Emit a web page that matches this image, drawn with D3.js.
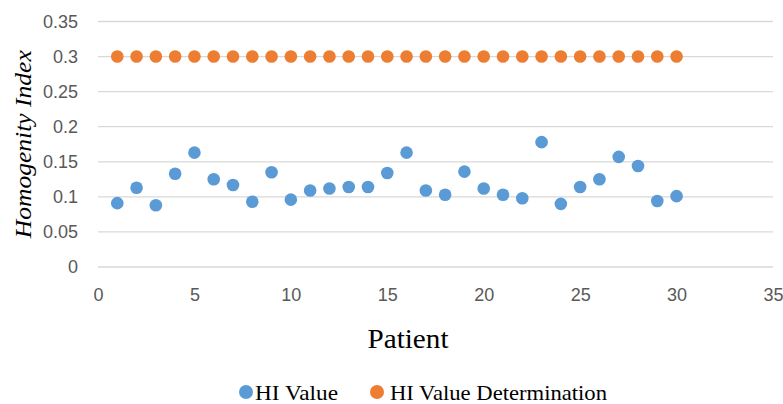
<!DOCTYPE html>
<html>
<head>
<meta charset="utf-8">
<script src="https://cdn.jsdelivr.net/npm/d3@7"></script>
<style>
  body { margin: 0; background: #fff; }
  svg { display: block; }
</style>
</head>
<body>
<script>
// data
var patients = d3.range(1, 31);
var hiValue = [0.091, 0.113, 0.088, 0.133, 0.163, 0.125, 0.117, 0.093, 0.135, 0.096,
               0.109, 0.112, 0.114, 0.114, 0.134, 0.163, 0.109, 0.103, 0.136, 0.112,
               0.103, 0.098, 0.178, 0.090, 0.114, 0.125, 0.157, 0.144, 0.094, 0.101];
var hiDetermination = patients.map(function() { return 0.3; });
var xTicks = [0, 5, 10, 15, 20, 25, 30, 35];
var yTicks = [0, 0.05, 0.1, 0.15, 0.2, 0.25, 0.3, 0.35];
var seriesNames = ["HI Value", "HI Value Determination"];
var colors = ["#5b9bd5", "#ed7d31"];

var width = 783, height = 404;
var margin = {top: 21.5, right: 10, bottom: 137, left: 98};

var svg = d3.select("body").append("svg")
    .attr("width", width)
    .attr("height", height);

var x = d3.scaleLinear().domain([0, 35]).range([margin.left, width - margin.right]);
var y = d3.scaleLinear().domain([0, 0.35]).range([height - margin.bottom, margin.top]);

var tickFont = "'Liberation Sans', Arial, sans-serif";
var serif = "'Liberation Serif', 'Times New Roman', serif";

// gridlines
svg.append("g")
    .selectAll("line")
    .data(yTicks)
  .enter().append("line")
    .attr("x1", x(0))
    .attr("x2", x(35))
    .attr("y1", function(d) { return y(d); })
    .attr("y2", function(d) { return y(d); })
    .attr("stroke", "#d9d9d9")
    .attr("stroke-width", 1.3);

// y axis labels
var yAxis = svg.append("g")
    .attr("transform", "translate(" + (x(0) - 20) + ",0)")
    .call(d3.axisLeft(y).tickValues(yTicks).tickSize(0).tickPadding(0)
      .tickFormat(function(d) { return String(+d.toFixed(2)); }));
yAxis.select(".domain").remove();
yAxis.selectAll("text")
    .attr("fill", "#595959")
    .style("font-family", tickFont)
    .style("font-size", "18px");

// x axis labels
var xAxis = svg.append("g")
    .attr("transform", "translate(0,301)")
    .call(d3.axisBottom(x).tickValues(xTicks).tickSize(0));
xAxis.select(".domain").remove();
xAxis.selectAll("text")
    .attr("y", 0)
    .attr("dy", 0)
    .attr("fill", "#595959")
    .style("font-family", tickFont)
    .style("font-size", "18px");

// points
svg.append("g")
    .selectAll("circle")
    .data(hiDetermination)
  .enter().append("circle")
    .attr("cx", function(d, i) { return x(patients[i]); })
    .attr("cy", function(d) { return y(d); })
    .attr("r", 6.3)
    .attr("fill", colors[1]);

svg.append("g")
    .selectAll("circle")
    .data(hiValue)
  .enter().append("circle")
    .attr("cx", function(d, i) { return x(patients[i]); })
    .attr("cy", function(d) { return y(d); })
    .attr("r", 6.3)
    .attr("fill", colors[0]);

// axis titles
svg.append("text")
    .attr("transform", "translate(31," + y(0.175) + ") rotate(-90)")
    .attr("text-anchor", "middle")
    .attr("textLength", 188)
    .attr("lengthAdjust", "spacingAndGlyphs")
    .style("font-family", serif)
    .style("font-style", "italic")
    .style("font-size", "24px")
    .attr("fill", "#000")
    .text("Homogenity Index");

svg.append("text")
    .attr("x", 408)
    .attr("y", 348)
    .attr("text-anchor", "middle")
    .attr("textLength", 81)
    .attr("lengthAdjust", "spacingAndGlyphs")
    .style("font-family", serif)
    .style("font-size", "27px")
    .attr("fill", "#000")
    .text("Patient");

// legend
var legendX = [246, 377];
var legendLen = [83, 217];
var legend = svg.append("g")
    .selectAll("g")
    .data(seriesNames)
  .enter().append("g")
    .attr("transform", function(d, i) { return "translate(" + legendX[i] + ",400)"; });
legend.append("circle")
    .attr("r", 7)
    .attr("cy", -8)
    .attr("fill", function(d, i) { return colors[i]; });
legend.append("text")
    .attr("x", function(d, i) { return i === 0 ? 9 : 13; })
    .attr("textLength", function(d, i) { return legendLen[i]; })
    .attr("lengthAdjust", "spacingAndGlyphs")
    .style("font-family", serif)
    .style("font-size", "21px")
    .attr("fill", "#000")
    .text(function(d) { return d; });
</script>
</body>
</html>
